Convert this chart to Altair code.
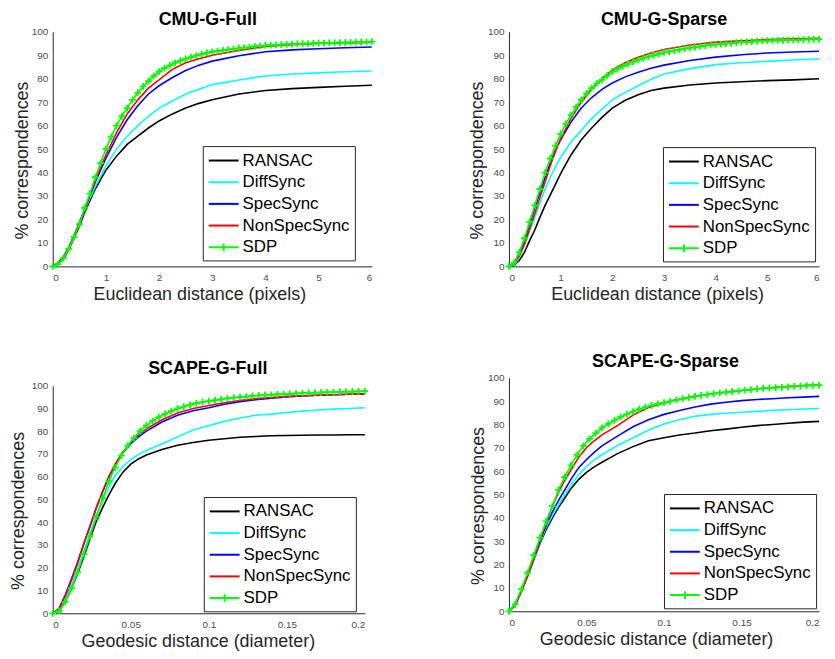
import altair as alt
import pandas as pd

methods = ["RANSAC", "DiffSync", "SpecSync", "NonSpecSync", "SDP"]
colors = ["#000000", "#00FFFF", "#0000FF", "#FF0000", "#00FF00"]

# ---------------- CMU (Euclidean distance, pixels) ----------------
cmu_x = [0, 0.1, 0.2, 0.3, 0.4, 0.5, 0.6, 0.7, 0.8, 0.9, 1.0, 1.2, 1.4, 1.6, 1.8,
         2.0, 2.25, 2.5, 2.75, 3.0, 3.5, 4.0, 4.5, 5.0, 5.5, 6.0]

cmu_full_ransac = [0, 1, 3, 7, 12, 17, 23, 28, 33, 37, 41, 47, 52, 55.5, 59,
                   62, 65, 67.5, 69.5, 71, 73.5, 75, 75.8, 76.3, 76.8, 77.2]
cmu_full_diffsync = [0, 1, 3.5, 7.5, 12.5, 18, 24, 29, 34, 38.5, 43, 50, 55.5, 60, 64,
                     67.5, 70.5, 73.5, 75.5, 77.5, 79.5, 81.2, 82, 82.5, 83, 83.3]
cmu_full_specsync = [0, 1.5, 4, 8, 13, 18.5, 24.5, 30, 36, 41, 46, 55, 62.5, 68.5, 73.5,
                     77, 80.5, 83.5, 85.8, 87.5, 89.8, 91.5, 92.3, 92.8, 93.2, 93.5]
cmu_full_nonspecsync = [0, 1.5, 4, 8, 13, 18.5, 24.5, 30.5, 36.5, 42, 47.5, 57, 65, 71, 76,
                        79.5, 84, 86.8, 88.5, 90, 92, 93.8, 94.5, 95, 95.3, 95.5]

cmu_sparse_ransac = [0, 0.5, 2.5, 6, 11, 15.5, 21, 26, 30.5, 35, 39.5, 47.5, 54, 59, 63.5,
                     67.5, 70.8, 73.2, 75, 76, 77.3, 78.2, 78.7, 79.2, 79.5, 80]
cmu_sparse_diffsync = [0, 1, 4, 9, 15, 21, 27, 33, 38, 42.5, 46.5, 53, 58, 63, 67,
                       71, 74.2, 77, 79.8, 82, 84.3, 86, 86.8, 87.4, 88, 88.5]
cmu_sparse_specsync = [0, 1.5, 5.5, 11, 18, 25, 31.5, 38, 44, 49.5, 54, 61.5, 67.5, 72, 75.5,
                       78.2, 80.8, 82.8, 84.5, 85.8, 87.8, 89.2, 90.2, 91, 91.4, 91.7]
cmu_sparse_nonspecsync = [0, 1.5, 4.5, 9.5, 16, 22.5, 29.5, 36, 43, 49, 54.5, 63, 70, 75.5, 80,
                          83.8, 86.8, 89.2, 91, 92.5, 94.4, 95.6, 96.2, 96.7, 97, 97.2]

cmu_sdp_x = [0, 0.1, 0.2, 0.3, 0.4, 0.5, 0.6, 0.7, 0.8, 0.9,
             1.0, 1.1, 1.2, 1.3, 1.4, 1.5, 1.6, 1.7, 1.8, 1.9,
             2.0, 2.1, 2.2, 2.3, 2.4, 2.5, 2.6, 2.7, 2.8, 2.9,
             3.0, 3.1, 3.2, 3.3, 3.4, 3.5, 3.6, 3.7, 3.8, 3.9,
             4.0, 4.1, 4.2, 4.3, 4.4, 4.5, 4.6, 4.7, 4.8, 4.9,
             5.0, 5.1, 5.2, 5.3, 5.4, 5.5, 5.6, 5.7, 5.8, 5.9, 6.0]
cmu_full_sdp = [0, 1, 3.5, 7.5, 12.5, 18, 25, 31, 38, 44,
                50, 55.2, 60, 64, 67.5, 71, 74, 76.7, 79, 81.2,
                83, 84.5, 85.7, 86.8, 87.7, 88.5, 89.2, 89.9, 90.5, 91,
                91.5, 91.8, 92.1, 92.4, 92.7, 93, 93.3, 93.5, 93.8, 94,
                94.2, 94.3, 94.4, 94.5, 94.7, 94.8, 94.9, 95, 95, 95.1,
                95.2, 95.2, 95.3, 95.3, 95.4, 95.4, 95.5, 95.6, 95.6, 95.7, 95.8]
cmu_sparse_sdp = [0, 1.5, 6, 12, 19, 26, 33, 40, 46, 51.5,
                  56.5, 60.8, 64.5, 68, 71, 73.7, 76, 78, 79.5, 81.3,
                  83, 84.2, 85.3, 86.2, 87.2, 88, 88.7, 89.4, 90, 90.6,
                  91.2, 91.6, 92, 92.4, 92.8, 93.2, 93.5, 93.8, 94.1, 94.4,
                  94.6, 94.8, 95, 95.2, 95.4, 95.6, 95.7, 95.8, 96, 96.1,
                  96.2, 96.3, 96.4, 96.4, 96.5, 96.6, 96.6, 96.7, 96.8, 96.8, 96.9]

# ---------------- SCAPE (Geodesic distance, diameter) ----------------
scape_x = [0, 0.004, 0.008, 0.012, 0.016, 0.02, 0.024, 0.028, 0.032, 0.036, 0.04,
           0.045, 0.05, 0.055, 0.06, 0.07, 0.08, 0.09, 0.1, 0.11, 0.12, 0.13, 0.14,
           0.15, 0.16, 0.17, 0.18, 0.19, 0.2]

scape_full_ransac = [0, 1, 5, 11, 17.5, 25, 33, 40.5, 46.5, 52, 57, 62, 65.5, 67.8, 69.5,
                     72, 73.8, 75, 76, 76.7, 77.3, 77.7, 78, 78.1, 78.2, 78.3, 78.3, 78.4, 78.4]
scape_full_diffsync = [0, 1.5, 6, 12.5, 19.5, 27.5, 35.5, 43, 49.5, 55.5, 60.5, 64.5, 67.5, 69.8, 71.5,
                       74.5, 77.5, 80.5, 82.5, 84.3, 85.8, 87, 87.5, 88.2, 88.8, 89.3, 89.7, 90, 90.3]
scape_full_specsync = [0, 2, 8, 15, 22.5, 30.8, 38.5, 46.5, 53.5, 60, 65, 70.5, 74.5, 77.5, 80,
                       84, 87, 89, 90.3, 91.8, 93, 93.8, 94.5, 95, 95.5, 95.8, 96, 96.2, 96.4]
scape_full_nonspecsync = [0, 2, 7.5, 14.5, 22, 30.5, 38.5, 46.5, 53.5, 60, 65.5, 71, 75, 78.5, 81,
                          85, 88, 90, 91.3, 92.5, 93.5, 94.3, 94.8, 95.3, 95.6, 95.8, 96, 96.2, 96.3]

scape_sparse_ransac = [0, 2.5, 8.5, 15, 22, 29, 35, 40, 44.5, 48.5, 52.5, 56.5, 59.5, 61.8, 63.8,
                       67.5, 70.5, 73, 74.3, 75.5, 76.3, 77.3, 78, 78.8, 79.5, 80, 80.5, 81, 81.3]
scape_sparse_diffsync = [0, 2.5, 8.5, 15, 22, 29.5, 36, 41, 45.5, 50, 54, 58.5, 62, 64.8, 67,
                         71, 74.3, 77.5, 80.2, 82, 83.5, 84.3, 84.8, 85.2, 85.6, 86, 86.3, 86.6, 86.8]
scape_sparse_specsync = [0, 3, 9, 15.5, 22.5, 30, 37, 42.5, 47.5, 52, 56.5, 61.5, 65, 68, 70.8,
                         75, 79, 82, 84.3, 86, 87.5, 88.7, 89.5, 90.2, 90.7, 91, 91.4, 91.7, 92]
scape_sparse_nonspecsync = [0, 2.5, 8.5, 15, 22.5, 30.5, 38, 45, 51, 56, 60.5, 66, 70, 73, 75.5,
                            79.5, 84, 87.2, 89.2, 90.8, 92, 93, 93.8, 94.5, 95.2, 95.8, 96.3, 96.7, 97]

scape_sdp_x = [0, 0.004, 0.008, 0.012, 0.016, 0.02, 0.024, 0.028, 0.032, 0.036,
               0.04, 0.044, 0.048, 0.052, 0.056, 0.06, 0.064, 0.068, 0.072, 0.076,
               0.08, 0.084, 0.088, 0.092, 0.096, 0.1, 0.104, 0.108, 0.112, 0.116,
               0.12, 0.124, 0.128, 0.132, 0.136, 0.14, 0.144, 0.148, 0.152, 0.156,
               0.16, 0.164, 0.168, 0.172, 0.176, 0.18, 0.184, 0.188, 0.192, 0.196, 0.2]
scape_full_sdp = [0, 1, 5, 11, 18, 26, 34, 42.5, 50.5, 58,
                  64, 69.3, 73.7, 77, 80, 82.5, 84.5, 86.2, 87.6, 88.8,
                  90, 90.8, 91.6, 92.3, 92.8, 93.2, 93.6, 94, 94.4, 94.7,
                  95, 95.2, 95.5, 95.7, 95.9, 96, 96.2, 96.3, 96.4, 96.6,
                  96.7, 96.8, 96.9, 97, 97.1, 97.2, 97.3, 97.4, 97.4, 97.5, 97.6]
scape_sparse_sdp = [0, 3, 9.5, 16.5, 24, 31.5, 38.5, 45, 52, 57.5,
                    62.5, 67, 70.8, 73.8, 76.3, 78.5, 80.2, 81.7, 83.2, 84.4,
                    85.5, 86.5, 87.4, 88.2, 88.8, 89.3, 89.9, 90.5, 91, 91.5,
                    92, 92.4, 92.8, 93.2, 93.5, 93.8, 94.1, 94.4, 94.7, 94.9,
                    95.2, 95.4, 95.6, 95.8, 95.9, 96.1, 96.3, 96.4, 96.6, 96.7, 96.8]

cmu_ticks = [0, 1, 2, 3, 4, 5, 6]
scape_ticks = [0, 0.05, 0.1, 0.15, 0.2]
y_ticks = [0, 10, 20, 30, 40, 50, 60, 70, 80, 90, 100]

# symbol paths (scaled by sqrt(size)/2)
LINE = "M-1,0L2.53,0"
LINE_PLUS = "M-1,0L2.53,0M0.765,-0.45L0.765,0.45"
PLUS = "M-1,0L1,0M0,-1L0,1"
legend_shapes = [LINE, LINE, LINE, LINE, LINE_PLUS]

FONT = "Liberation Sans"


def panel(title, title_dx, title_offset, xs, curves, sdp_x, sdp_y, x_max, x_ticks,
          x_title, x_title_x, w, h, lx, ly, y_tp):
    rows = []
    for name, ys in zip(methods[:4], curves):
        for xv, yv in zip(xs, ys):
            rows.append({"x": xv, "y": yv, "method": name})
    for xv, yv in zip(sdp_x, sdp_y):
        rows.append({"x": xv, "y": yv, "method": "SDP"})
    line_df = pd.DataFrame(rows)
    sdp_df = pd.DataFrame({"x": sdp_x, "y": sdp_y, "method": ["SDP"] * len(sdp_x)})

    legend = alt.Legend(title=None, orient="none", legendX=lx, legendY=ly)
    cscale = alt.Scale(domain=methods, range=colors)
    xenc = alt.X("x:Q", scale=alt.Scale(domain=[0, x_max], nice=False),
                 axis=alt.Axis(values=x_ticks, format="~g", title=x_title,
                               titleX=x_title_x, labelPadding=6, titlePadding=3))
    yenc = alt.Y("y:Q", scale=alt.Scale(domain=[0, 100], nice=False),
                 axis=alt.Axis(values=y_ticks, title="% correspondences",
                               titlePadding=y_tp, titleY=h / 2 + 11))
    color = alt.Color("method:N", scale=cscale, legend=legend)

    lines = alt.Chart(line_df).mark_line(strokeWidth=1.6).encode(
        x=xenc, y=yenc, color=color)
    markers = alt.Chart(sdp_df).mark_point(
        shape=PLUS, size=46, filled=False, strokeWidth=1.8, opacity=1
    ).encode(x=xenc, y=yenc, color=color)
    legend_layer = alt.Chart(sdp_df).transform_filter("false").mark_point(
        filled=False, opacity=1
    ).encode(
        x=xenc, y=yenc, color=color,
        shape=alt.Shape("method:N", scale=alt.Scale(domain=methods, range=legend_shapes),
                        legend=legend),
    )
    return alt.layer(lines, markers, legend_layer).properties(
        width=w, height=h,
        title=alt.Title(title, fontSize=18, font=FONT, fontWeight="bold", color="#000000",
                        offset=title_offset, dx=title_dx),
    )


p1 = panel("CMU-G-Full", -4.5, -2, cmu_x,
           [cmu_full_ransac, cmu_full_diffsync, cmu_full_specsync, cmu_full_nonspecsync],
           cmu_sdp_x, cmu_full_sdp, 6, cmu_ticks, "Euclidean distance (pixels)", 147.5,
           321, 236, 151, 115, 0)
p2 = panel("CMU-G-Sparse", 0, -2, cmu_x,
           [cmu_sparse_ransac, cmu_sparse_diffsync, cmu_sparse_specsync, cmu_sparse_nonspecsync],
           cmu_sdp_x, cmu_sparse_sdp, 6, cmu_ticks, "Euclidean distance (pixels)", 149,
           312, 236, 155, 116, 1)
p3 = panel("SCAPE-G-Full", -1, 2.5, scape_x,
           [scape_full_ransac, scape_full_diffsync, scape_full_specsync, scape_full_nonspecsync],
           scape_sdp_x, scape_full_sdp, 0.2, scape_ticks, "Geodesic distance (diameter)", 146,
           314, 229, 152, 112, 4)
p4 = panel("SCAPE-G-Sparse", 1.5, 1.5, scape_x,
           [scape_sparse_ransac, scape_sparse_diffsync, scape_sparse_specsync, scape_sparse_nonspecsync],
           scape_sdp_x, scape_sparse_sdp, 0.2, scape_ticks, "Geodesic distance (diameter)", 148,
           312, 235, 156, 117, 0)


def indep(c):
    return c.resolve_scale(color="independent", shape="independent",
                           x="independent", y="independent").resolve_legend(
        color="independent", shape="independent")


col1 = indep(alt.vconcat(p1, p3, spacing=56))
col2 = indep(alt.vconcat(p2, p4, spacing=49))
chart = indep(alt.hconcat(col1, col2, spacing=88)).properties(
    padding={"left": 0, "top": 0, "right": 0, "bottom": 0}
).configure_axis(
    domainColor="#262626", domainWidth=1, ticks=False, tickSize=0, grid=False,
    labelFont=FONT, labelFontSize=10, labelColor="#4d4d4d", labelPadding=5,
    titleFont=FONT, titleFontSize=18, titleFontWeight="normal", titleColor="#262626",
).configure_legend(
    labelFont=FONT, labelFontSize=17, labelColor="#000000", symbolSize=289,
    symbolStrokeWidth=2, symbolOpacity=1, strokeColor="#262626", fillColor="#ffffff",
    padding=5, rowPadding=3.8, labelOffset=16,
).configure_view(stroke="transparent")

chart.save("out.html", embed_options={"renderer": "svg", "actions": False})
